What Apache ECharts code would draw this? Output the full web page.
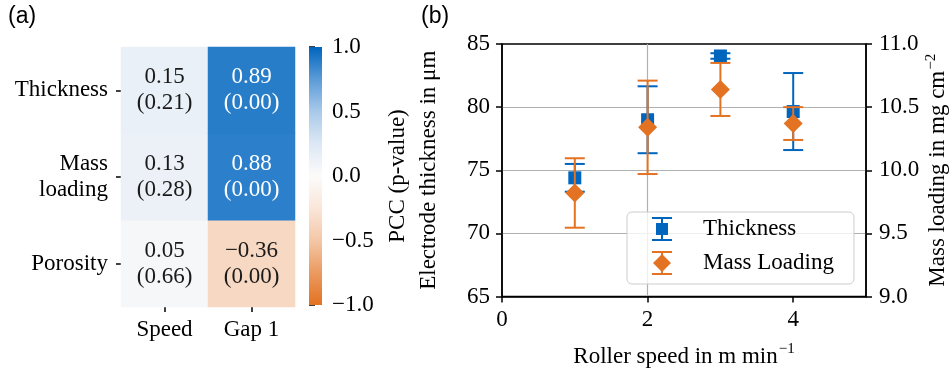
<!DOCTYPE html>
<html>
<head>
<meta charset="utf-8">
<script src="https://cdn.jsdelivr.net/npm/echarts@6/dist/echarts.min.js"></script>
<style>html,body{margin:0;padding:0;background:#fff}#c{width:952px;height:373px}</style>
</head>
<body>
<div id="c"></div>
<script>
// ---------- data: panel (a) ----------
const heatCols = ['Speed', 'Gap 1'];
const heatRows = ['Porosity', 'Mass\nloading', 'Thickness']; // bottom -> top
const pccSpeed = [0.05, 0.13, 0.15];
const pccGap1 = [-0.36, 0.88, 0.89];
const pvalSpeed = [0.66, 0.28, 0.21];
const pvalGap1 = [0.00, 0.00, 0.00];
const cbRange = [-1, 1];
const cbInterval = 0.5;

// ---------- data: panel (b) ----------
const rollerSpeed = [1, 2, 3, 4];
const thickness = [74.4, 79.0, 84.05, 79.65];
const thicknessErr = [1.1, 2.65, 0.22, 3.05];
const massLoading = [9.82, 10.34, 10.64, 10.37];
const massLoadingErr = [0.275, 0.37, 0.21, 0.13];
const xTicks = [0, 2, 4];

// ---------- styles ----------
const SERIF = '"Liberation Serif", "Times New Roman", serif';
const FS = 23;
const BLUE = '#0065bd';
const ORANGE = '#e37222';
const cmap = ['#e37222', '#eb9a60', '#f3c7a6', '#fae6d9', '#fcfbfa', '#dce8f5', '#a9c9e9', '#5b9bd8', '#0065bd'];
const fmt = v => (v < 0 ? '\u2212' : '') + Math.abs(v).toFixed(2);

const heatData = [];
[pccSpeed, pccGap1].forEach((col, i) => {
  const pv = i === 0 ? pvalSpeed : pvalGap1;
  col.forEach((v, j) => {
    heatData.push({
      value: [i, j, v, pv[j]],
      label: { color: Math.abs(v) > 0.6 ? '#ffffff' : '#1a1a1a' }
    });
  });
});

const errThick = rollerSpeed.map((x, i) => [x, thickness[i] - thicknessErr[i], thickness[i] + thicknessErr[i]]);
const errMass = rollerSpeed.map((x, i) => [x, massLoading[i] - massLoadingErr[i], massLoading[i] + massLoadingErr[i]]);

function errRender(params, api) {
  const x = api.value(0), lo = api.value(1), hi = api.value(2);
  const t = api.coord([x, hi]), b = api.coord([x, lo]);
  const hw = 10;
  const st = { stroke: api.visual('color'), lineWidth: 2 };
  return { type: 'group', children: [
    { type: 'line', shape: { x1: t[0], y1: t[1], x2: b[0], y2: b[1] }, style: st },
    { type: 'line', shape: { x1: t[0] - hw, y1: t[1], x2: t[0] + hw, y2: t[1] }, style: st },
    { type: 'line', shape: { x1: b[0] - hw, y1: b[1], x2: b[0] + hw, y2: b[1] }, style: st }
  ]};
}

function cbRender(params, api) {
  const lo = api.value(0), hi = api.value(1);
  const p1 = api.coord([0, hi]), p2 = api.coord([1, lo]);
  const stops = cmap.map((c, k) => ({ offset: 1 - k / (cmap.length - 1), color: c }));
  stops.reverse();
  return { type: 'rect', shape: { x: p1[0], y: p1[1], width: p2[0] - p1[0], height: p2[1] - p1[1] },
    style: { fill: new echarts.graphic.LinearGradient(0, 0, 0, 1, stops) } };
}

const tickStyle = { color: '#000', width: 1.5 };
const lbl = { fontFamily: SERIF, fontSize: FS, color: '#000' };

const thickIcon = 'path://M0 0H20V2H0Z M0 22H20V24H0Z M9 0H11V24H9Z M4 6H16V18H4Z';
const massIcon = 'path://M0 0H20V2H0Z M0 22H20V24H0Z M9 0H11V24H9Z M10 3L19 12L10 21L1 12Z';

const chart = echarts.init(document.getElementById('c'), null, { renderer: 'canvas' });
chart.setOption({
  animation: false,
  textStyle: { fontFamily: SERIF },
  graphic: [
    { type: 'text', left: 8, top: 5, style: { text: '(a)', font: '23px "Liberation Sans"', fill: '#000' } },
    { type: 'text', left: 421, top: 5, style: { text: '(b)', font: '23px "Liberation Sans"', fill: '#000' } }
  ],
  visualMap: [{ type: 'continuous', show: false, min: cbRange[0], max: cbRange[1], dimension: 2, seriesIndex: 0, inRange: { color: cmap } }],
  grid: [
    { left: 121, top: 47, width: 174, height: 260 },
    { left: 309, top: 47, width: 13, height: 258 },
    { left: 502, top: 44, width: 364, height: 254, show: true, borderColor: '#000', borderWidth: 1.5 }
  ],
  xAxis: [
    { type: 'category', gridIndex: 0, data: heatCols, axisLine: { show: false },
      axisTick: { show: true, alignWithLabel: true, length: 5, lineStyle: tickStyle },
      axisLabel: Object.assign({ margin: 11, interval: 0 }, lbl), splitLine: { show: false } },
    { type: 'value', gridIndex: 1, min: 0, max: 1, show: false },
    { type: 'value', gridIndex: 2, min: 0, max: 5, interval: 2,
      name: '{t|Roller speed in m min}{s|\u22121}', nameLocation: 'middle', nameGap: 45,
      nameTextStyle: { rich: {
        t: { fontFamily: SERIF, fontSize: FS, color: '#000', lineHeight: 30 },
        s: { fontFamily: SERIF, fontSize: 15, color: '#000', lineHeight: 14, verticalAlign: 'top', padding: [0, 0, 0, 1] } } },
      axisLine: { show: true, lineStyle: { color: '#000', width: 1.5 } },
      axisTick: { show: true, length: 6, lineStyle: tickStyle, customValues: xTicks },
      axisLabel: Object.assign({ margin: 12, customValues: xTicks }, lbl),
      splitLine: { show: true, showMinLine: false, showMaxLine: false, lineStyle: { color: '#b0b0b0', width: 1.2 } } }
  ],
  yAxis: [
    { type: 'category', gridIndex: 0, data: heatRows, axisLine: { show: false },
      axisTick: { show: true, alignWithLabel: true, length: 5, lineStyle: tickStyle },
      axisLabel: Object.assign({ margin: 13, lineHeight: 26, align: 'right', interval: 0 }, lbl), splitLine: { show: false } },
    { type: 'value', gridIndex: 1, min: cbRange[0], max: cbRange[1], interval: cbInterval, position: 'right',
      name: 'PCC (p-value)', nameLocation: 'middle', nameGap: 64, nameRotate: 90,
      nameTextStyle: { fontFamily: SERIF, fontSize: FS, color: '#000' },
      axisLine: { show: false }, axisTick: { show: true, length: 6, lineStyle: tickStyle },
      axisLabel: Object.assign({ margin: 10, formatter: v => (v < 0 ? '\u2212' : '') + Math.abs(v).toFixed(1) }, lbl),
      splitLine: { show: false } },
    { type: 'value', gridIndex: 2, min: 65, max: 85, interval: 5, position: 'left',
      name: 'Electrode thickness in \u03bcm', nameLocation: 'middle', nameGap: 62, nameRotate: 90,
      nameTextStyle: { fontFamily: SERIF, fontSize: FS, color: '#000' },
      axisLine: { show: true, lineStyle: { color: '#000', width: 1.5 } },
      axisTick: { show: true, length: 6, lineStyle: tickStyle },
      axisLabel: Object.assign({ margin: 12 }, lbl),
      splitLine: { show: true, showMinLine: false, showMaxLine: false, lineStyle: { color: '#b0b0b0', width: 1.2 } } },
    { type: 'value', gridIndex: 2, min: 9, max: 11, interval: 0.5, position: 'right',
      name: '{t|Mass loading in mg cm}{s|\u22122}', nameLocation: 'middle', nameGap: 56, nameRotate: 90,
      nameTextStyle: { rich: {
        t: { fontFamily: SERIF, fontSize: FS, color: '#000', lineHeight: 30 },
        s: { fontFamily: SERIF, fontSize: 15, color: '#000', lineHeight: 14, verticalAlign: 'top', padding: [0, 0, 0, 1] } } },
      axisLine: { show: true, lineStyle: { color: '#000', width: 1.5 } },
      axisTick: { show: true, length: 6, lineStyle: tickStyle },
      axisLabel: Object.assign({ margin: 13, formatter: v => v.toFixed(1) }, lbl),
      splitLine: { show: false } }
  ],
  legend: {
    left: 627, top: 212, orient: 'vertical',
    padding: [4, 20, 8, 25], itemGap: 8, itemWidth: 20, itemHeight: 24,
    backgroundColor: 'rgba(255,255,255,0.8)', borderColor: '#cccccc', borderWidth: 1, borderRadius: 5,
    textStyle: { fontFamily: SERIF, fontSize: FS, color: '#000', padding: [0, 0, 0, 26], lineHeight: 26 },
    data: [{ name: 'Thickness', icon: thickIcon }, { name: 'Mass Loading', icon: massIcon }]
  },
  series: [
    { type: 'heatmap', xAxisIndex: 0, yAxisIndex: 0, data: heatData,
      label: { show: true, fontFamily: SERIF, fontSize: FS, lineHeight: 26,
        formatter: p => fmt(p.data.value[2]) + '\n(' + p.data.value[3].toFixed(2) + ')' },
      itemStyle: { borderWidth: 0 }, emphasis: { disabled: true } },
    { type: 'custom', xAxisIndex: 1, yAxisIndex: 1, renderItem: cbRender, data: [[cbRange[0], cbRange[1]]], silent: true },
    { type: 'custom', name: 'Thickness', xAxisIndex: 2, yAxisIndex: 2, renderItem: errRender,
      itemStyle: { color: BLUE }, encode: { x: 0, y: [1, 2] }, data: errThick, z: 2 },
    { type: 'scatter', name: 'Thickness', xAxisIndex: 2, yAxisIndex: 2, symbol: 'rect', symbolSize: 13,
      itemStyle: { color: BLUE, opacity: 1 }, data: rollerSpeed.map((x, i) => [x, thickness[i]]), z: 3 },
    { type: 'custom', name: 'Mass Loading', xAxisIndex: 2, yAxisIndex: 3, renderItem: errRender,
      itemStyle: { color: ORANGE }, encode: { x: 0, y: [1, 2] }, data: errMass, z: 4 },
    { type: 'scatter', name: 'Mass Loading', xAxisIndex: 2, yAxisIndex: 3, symbol: 'diamond', symbolSize: 19,
      itemStyle: { color: ORANGE, opacity: 1 }, data: rollerSpeed.map((x, i) => [x, massLoading[i]]), z: 5 }
  ]
});
</script>
</body>
</html>
